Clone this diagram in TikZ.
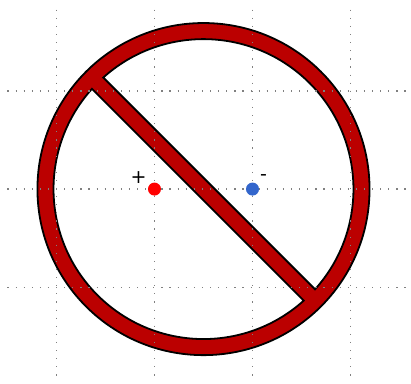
\documentclass[tikz,border=0pt]{standalone}
\usepackage{fontspec}
\setmainfont{DejaVu Sans}
\usetikzlibrary{positioning}
\definecolor{ringred}{RGB}{187,0,0}
\definecolor{chargeblue}{RGB}{51,102,204}
\tikzset{
  griddots/.style={gray, line width=1.2pt, dash pattern=on 1.2pt off 6.9pt},
  charge/.style={circle, inner sep=0pt, minimum size=13pt},
  sign/.style={font=\fontsize{19}{19}\selectfont, inner sep=0pt}
}
\begin{document}
\begin{tikzpicture}[scale=3.444]
\useasboundingbox (-1.576,-1.98) rectangle (2.617,1.929);
% Aro exterior y barra diagonal
\draw[line width=1.8pt, fill=ringred] (0.5,0) circle (1.694);
\draw[line width=1.8pt, fill=white] (0.5,0) ++(-41.94:1.53) arc (-41.94:131.94:1.53) -- cycle;
\draw[line width=1.8pt, fill=white] (0.5,0) ++(138.06:1.53) arc (138.06:311.94:1.53) -- cycle;
% Cuadricula punteada
\foreach \x in {-1,0,1,2}
  \draw[griddots] (\x,1.83) -- (\x,-1.92);
\foreach \y in {-1,0,1}
  \draw[griddots] (-1.5,\y) -- (2.6,\y);
% Cargas
\node[charge, fill=red] (pos) at (0,0) {};
\node[charge, fill=chargeblue] (neg) at (1,0) {};
\node[sign, xshift=-16pt, yshift=12pt] (plus) at (pos) {+};
\node[sign, xshift=11pt, yshift=12pt] (minus) at (neg) {-};
\end{tikzpicture}
\end{document}
